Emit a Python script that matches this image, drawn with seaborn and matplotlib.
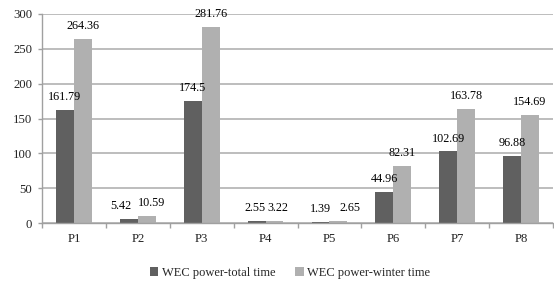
import numpy as np
import pandas as pd
import matplotlib
matplotlib.use("Agg")
import matplotlib.pyplot as plt
import seaborn as sns

# Data
sites = ["P1", "P2", "P3", "P4", "P5", "P6", "P7", "P8"]
total_time = [161.79, 5.42, 174.5, 2.55, 1.39, 44.96, 102.69, 96.88]
winter_time = [264.36, 10.59, 281.76, 3.22, 2.65, 82.31, 163.78, 154.69]
label_total = ["161.79", "5.42", "174.5", "2.55", "1.39", "44.96", "102.69", "96.88"]
label_winter = ["264.36", "10.59", "281.76", "3.22", "2.65", "82.31", "163.78", "154.69"]
series = ["WEC power-total time", "WEC power-winter time"]

# sideways nudges (points) for labels that would collide on tiny bars
nudge_total = [0, -5.5, 0, -1.0, 0, 0, 0, 0]
nudge_winter = [0, 3.5, 0, 2.5, 8.5, 0, 0, 0]

df = pd.DataFrame({
    "site": sites * 2,
    "power": total_time + winter_time,
    "series": [series[0]] * len(sites) + [series[1]] * len(sites),
})

sns.set_style("white")
plt.rcParams["font.family"] = ["Liberation Serif", "DejaVu Serif"]

fig = plt.figure(figsize=(5.54, 2.86), dpi=100)
ax = fig.add_axes([42 / 554, 63 / 286, 511 / 554, 209 / 286])

sns.barplot(data=df, x="site", y="power", hue="series", order=sites,
            palette=["#606060", "#b0b0b0"], width=0.56, gap=0,
            saturation=1, edgecolor="none", linewidth=0, ax=ax)

for cont, labs, nudges in zip(ax.containers, [label_total, label_winter],
                              [nudge_total, nudge_winter]):
    texts = ax.bar_label(cont, labels=labs, padding=5, fontsize=8.7, color="black")
    for t, dx in zip(texts, nudges):
        x0, y0 = t.xyann
        t.xyann = (x0 + dx, y0)

ax.set_ylim(0, 300)
ax.set_xlim(-0.5, len(sites) - 0.5)
ax.set_yticks(np.arange(0, 301, 50))
ax.yaxis.grid(True, color="#b8b8b8", linewidth=1.3)
ax.set_axisbelow(True)
ax.set_xlabel("")
ax.set_ylabel("")

for s in ["top", "right"]:
    ax.spines[s].set_visible(False)
ax.spines["left"].set_color("#a0a0a0")
ax.spines["bottom"].set_color("#a0a0a0")
ax.spines["left"].set_linewidth(1.0)
ax.spines["bottom"].set_linewidth(1.0)

ax.set_xticks(np.arange(-0.5, len(sites), 1.0), minor=True)
ax.tick_params(axis="x", which="major", length=0, pad=7, labelsize=9.2)
ax.tick_params(axis="x", which="minor", length=3.6, color="#a0a0a0", width=1.0,
               direction="out", bottom=True)
ax.tick_params(axis="y", length=3, color="#a0a0a0", width=1.0, pad=4,
               labelsize=9.2, left=True)

ax.legend(loc="center", bbox_to_anchor=(0.485, -0.24), ncol=2, frameon=False,
          fontsize=9, handlelength=0.7, handleheight=0.7, handletextpad=0.25,
          columnspacing=1.6)

fig.savefig("out.png", dpi=100)
